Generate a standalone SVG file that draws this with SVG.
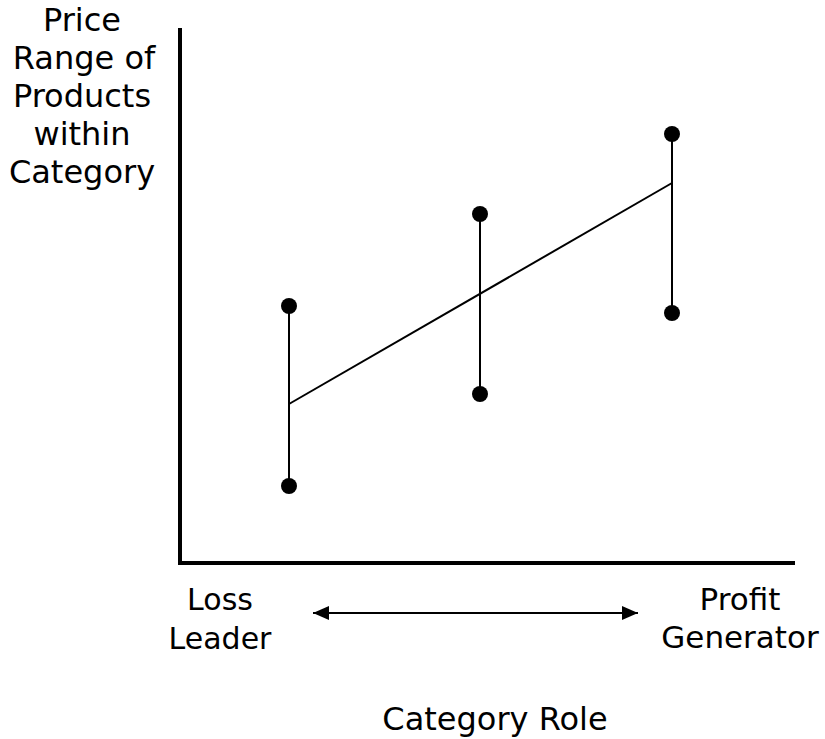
<svg xmlns="http://www.w3.org/2000/svg" width="825" height="739" viewBox="0 0 825 739">
<style>
text{font-family:"DejaVu Sans","Verdana",sans-serif;font-size:30px;fill:#000;text-anchor:middle}
.yl{font-size:32px}
.big{font-size:32px}
.pg{font-size:31px}
.axis{stroke:#000;stroke-width:4;fill:none}
.ln{stroke:#000;stroke-width:2;fill:none}
.dot{fill:#000}
</style>
<defs>
<marker id="ah" viewBox="0 0 16 16" refX="16" refY="8" markerWidth="16" markerHeight="16" markerUnits="userSpaceOnUse" orient="auto-start-reverse">
<path d="M0,1 L16,8 L0,15 Z" fill="#000"/>
</marker>
</defs>
<rect width="825" height="739" fill="#fff"/>
<g id="axes">
<path class="axis" d="M180,28 V563 H795"/>
</g>
<g id="connectors">
<line class="ln" x1="289" y1="306" x2="289" y2="486"/>
<line class="ln" x1="480" y1="214" x2="480" y2="394"/>
<line class="ln" x1="672" y1="134" x2="672" y2="313"/>
<line class="ln" x1="289" y1="404" x2="672" y2="183"/>
<line class="ln" x1="313" y1="613" x2="638" y2="613" marker-start="url(#ah)" marker-end="url(#ah)"/>
</g>
<g id="node-left">
<circle class="dot" cx="289" cy="306" r="8"/>
<circle class="dot" cx="289" cy="486" r="8"/>
</g>
<g id="node-middle">
<circle class="dot" cx="480" cy="214" r="8"/>
<circle class="dot" cx="480" cy="394" r="8"/>
</g>
<g id="node-right">
<circle class="dot" cx="672" cy="134" r="8"/>
<circle class="dot" cx="672" cy="313" r="8"/>
</g>
<g id="y-label" class="yl">
<text class="yl" x="82" y="31">Price</text>
<text class="yl" x="84" y="69">Range of</text>
<text class="yl" x="82" y="107">Products</text>
<text class="yl" x="82" y="145">within</text>
<text class="yl" x="82" y="183">Category</text>
</g>
<g id="x-labels">
<text x="220" y="610">Loss</text>
<text x="220" y="649">Leader</text>
<text class="pg" x="740" y="610">Profit</text>
<text class="pg" x="740" y="648">Generator</text>
<text class="big" x="495" y="730">Category Role</text>
</g>
</svg>
